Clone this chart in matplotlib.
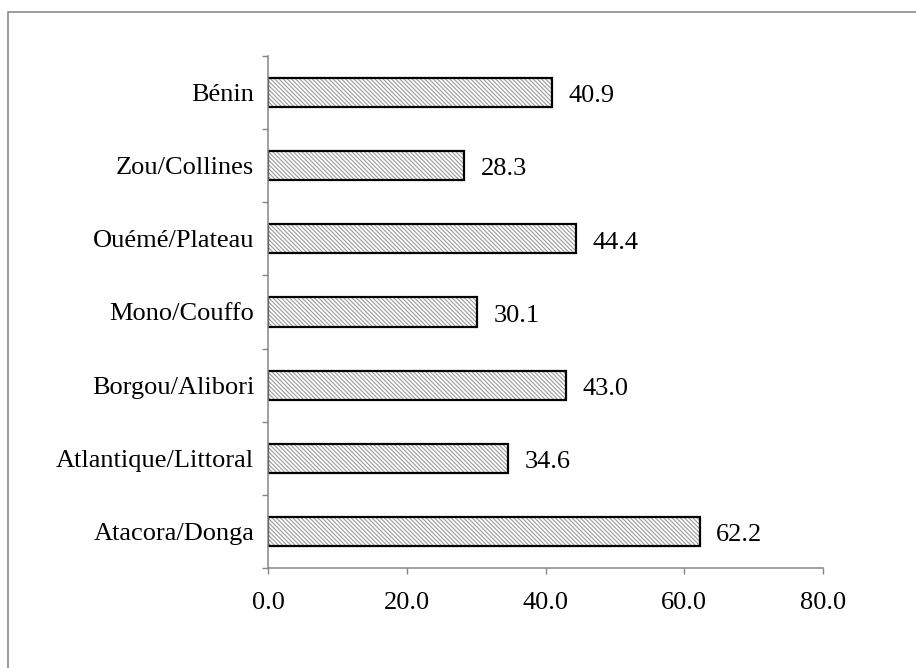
import matplotlib
matplotlib.use("Agg")
import matplotlib.pyplot as plt
from matplotlib.patches import Rectangle

# régions, de bas en haut
regions = ["Atacora/Donga", "Atlantique/Littoral", "Borgou/Alibori",
           "Mono/Couffo", "Ouémé/Plateau", "Zou/Collines", "Bénin"]
valeurs = [62.2, 34.6, 43.0, 30.1, 44.4, 28.3, 40.9]
xticks = [0, 20, 40, 60, 80]

plt.rcParams['font.family'] = ['Liberation Serif', 'DejaVu Serif']
plt.rcParams['hatch.linewidth'] = 0.8
plt.rcParams['hatch.color'] = '#9a9a9a'

fig = plt.figure(figsize=(9.16, 6.68), dpi=100)
ax = fig.add_axes([268/916, 1-568/668, (823-268)/916, (568-56)/668])

pos = list(range(len(regions)))
# remplissage hachuré puis contour noir
ax.barh(pos, valeurs, height=0.4, color='white', edgecolor='#9a9a9a',
        hatch='\\\\\\\\\\\\\\\\', linewidth=0)
ax.barh(pos, valeurs, height=0.4, fill=False, edgecolor='black', linewidth=1.6)

for p, v in zip(pos, valeurs):
    ax.text(v + 2.4, p - 0.05, f"{v:.1f}", va='center', ha='left', fontsize=19)

ax.set_xlim(0, 80)
ax.set_ylim(-0.5, len(regions) - 0.5)
ax.set_xticks(xticks)
ax.set_xticklabels([f"{t:.1f}" for t in xticks], fontsize=19)
ax.set_yticks(pos)
ax.set_yticklabels(regions, fontsize=19)
ax.set_yticks([p - 0.5 for p in range(len(regions) + 1)], minor=True)
ax.tick_params(axis='y', which='major', length=0, pad=10)
ax.tick_params(axis='y', which='minor', length=4, width=1, color='#868686')
ax.tick_params(axis='x', length=4, width=1, color='#868686', pad=13)

for s in ['top', 'right']:
    ax.spines[s].set_visible(False)
for s in ['left', 'bottom']:
    ax.spines[s].set_color('#868686')
    ax.spines[s].set_linewidth(1.1)

# cadre du graphique
fig.patches.append(Rectangle((8/916, -0.5), 1.2, 0.5 + 1 - 12/668,
                             transform=fig.transFigure, fill=False,
                             edgecolor='#8c8c8c', linewidth=1.2))

fig.savefig("out.png", dpi=100)
